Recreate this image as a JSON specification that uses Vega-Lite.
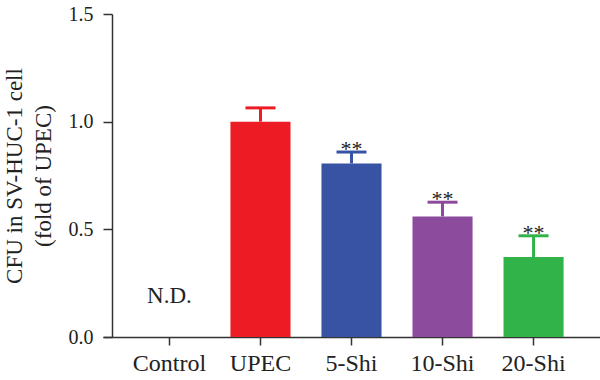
{
  "$schema": "https://vega.github.io/schema/vega-lite/v6.json",
  "width": 497,
  "height": 323,
  "autosize": {"type": "none"},
  "padding": {"left": 103, "top": 14, "right": 0, "bottom": 43},
  "background": "white",
  "config": {"font": "Liberation Serif", "view": {"stroke": null}},
  "data": {
    "values": [
      {"group": "Control", "value": 0, "upper": null, "sig": ""},
      {"group": "UPEC", "value": 1.0, "upper": 1.064, "sig": ""},
      {"group": "5-Shi", "value": 0.806, "upper": 0.859, "sig": "**"},
      {"group": "10-Shi", "value": 0.56, "upper": 0.626, "sig": "**"},
      {"group": "20-Shi", "value": 0.371, "upper": 0.47, "sig": "**"}
    ]
  },
  "encoding": {
    "x": {
      "field": "group",
      "type": "nominal",
      "sort": ["Control", "UPEC", "5-Shi", "10-Shi", "20-Shi"],
      "scale": {"paddingInner": 0.34, "paddingOuter": 0.4},
      "axis": {
        "title": null,
        "labelAngle": 0,
        "labelFontSize": 24,
        "labelColor": "#222",
        "labelPadding": 6,
        "tickSize": 8,
        "tickWidth": 1.5,
        "tickColor": "#333",
        "domainColor": "#333",
        "domainWidth": 1.5
      }
    },
    "color": {
      "field": "group",
      "type": "nominal",
      "scale": {
        "domain": ["Control", "UPEC", "5-Shi", "10-Shi", "20-Shi"],
        "range": ["#999999", "#ED1C24", "#3953A4", "#8C4B9C", "#32B34A"]
      },
      "legend": null
    }
  },
  "layer": [
    {
      "mark": {"type": "bar"},
      "encoding": {
        "y": {
          "field": "value",
          "type": "quantitative",
          "title": ["CFU in SV-HUC-1 cell", "(fold of UPEC)"],
          "scale": {"domain": [0, 1.5], "nice": false},
          "axis": {
            "titleFontSize": 23,
            "titleFontWeight": "normal",
            "titleColor": "#222",
            "titleLineHeight": 29,
            "titleX": -109,
            "titleBaseline": "top",
            "offset": -9,
            "values": [0, 0.5, 1, 1.5],
            "format": ".1f",
            "grid": false,
            "labelFontSize": 20,
            "labelColor": "#222",
            "labelPadding": 10,
            "tickSize": 9,
            "tickWidth": 1.5,
            "tickColor": "#333",
            "domainColor": "#333",
            "domainWidth": 1.5
          }
        }
      }
    },
    {
      "transform": [{"filter": "datum.upper != null"}],
      "mark": {"type": "rule", "strokeWidth": 3},
      "encoding": {
        "y": {"field": "value", "type": "quantitative", "title": ["CFU in SV-HUC-1 cell", "(fold of UPEC)"]},
        "y2": {"field": "upper"}
      }
    },
    {
      "transform": [{"filter": "datum.upper != null"}],
      "mark": {"type": "tick", "thickness": 3, "size": 30, "opacity": 1},
      "encoding": {
        "y": {"field": "upper", "type": "quantitative", "title": ["CFU in SV-HUC-1 cell", "(fold of UPEC)"]}
      }
    },
    {
      "transform": [{"filter": "datum.upper != null"}],
      "mark": {"type": "text", "fontSize": 22, "baseline": "alphabetic", "dy": 4},
      "encoding": {
        "y": {"field": "upper", "type": "quantitative", "title": ["CFU in SV-HUC-1 cell", "(fold of UPEC)"]},
        "text": {"field": "sig"},
        "color": {"value": "#222"}
      }
    },
    {
      "data": {"values": [{"group": "Control", "pos": 0.158, "note": "N.D."}]},
      "mark": {"type": "text", "fontSize": 23, "baseline": "alphabetic"},
      "encoding": {
        "y": {"field": "pos", "type": "quantitative", "title": ["CFU in SV-HUC-1 cell", "(fold of UPEC)"]},
        "text": {"field": "note"},
        "color": {"value": "#222"}
      }
    }
  ]
}
